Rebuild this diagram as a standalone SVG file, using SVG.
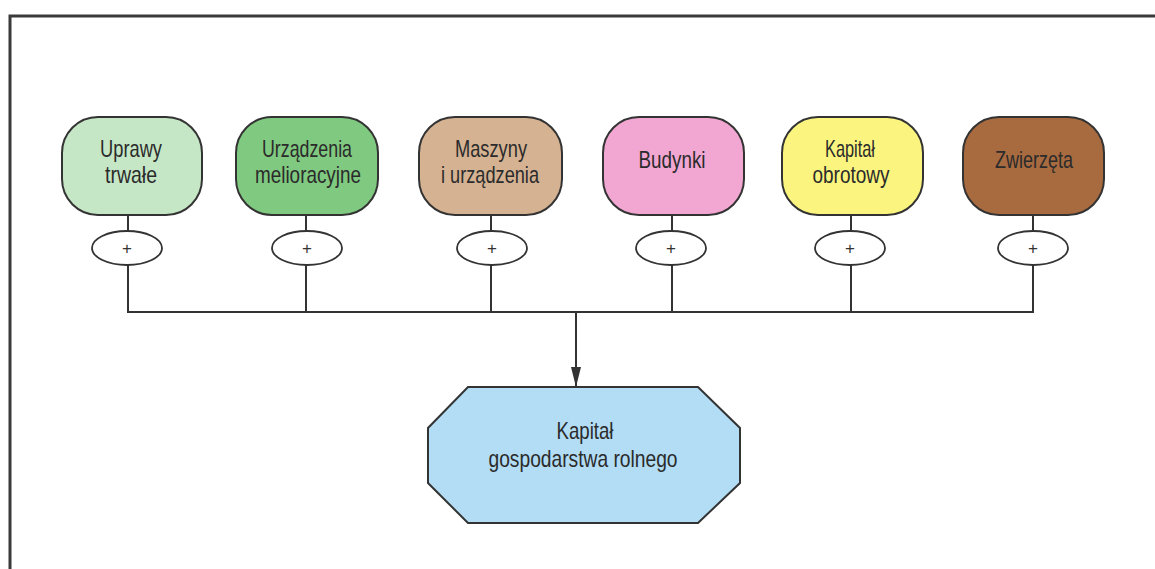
<svg xmlns="http://www.w3.org/2000/svg" width="1155" height="569" viewBox="0 0 1155 569">
<defs>
<style>
.frame{fill:none;stroke:#3a3a3a;stroke-width:3}
.box{stroke:#333;stroke-width:2}
.ell{fill:#fff;stroke:#333;stroke-width:1.8}
.ln{fill:none;stroke:#333;stroke-width:2}
.t{font-family:"Liberation Sans",Arial,sans-serif;font-size:24px;fill:#2b2b2b;text-anchor:middle}
.p{font-family:"Liberation Sans",Arial,sans-serif;font-size:17px;fill:#333;text-anchor:middle}
</style>
<marker id="arr" markerWidth="20" markerHeight="12" refX="20" refY="6" orient="auto" markerUnits="userSpaceOnUse" viewBox="0 0 20 12">
<path d="M0,1 L20,6 L0,11 Z" fill="#333"/>
</marker>
</defs>
<rect width="1155" height="569" fill="#fff"/>
<path class="frame" d="M10,569 L10,16 L1155,16"/>
<g id="connectors">
<path class="ln" d="M128,215 V231 M128,265 V312 M306,215 V231 M306,265 V312 M491,215 V231 M491,265 V312 M672,215 V231 M672,265 V312 M851,215 V231 M851,265 V312 M1033,215 V231 M1033,265 V312 M127,312 H1034"/>
<path class="ln" d="M576,312 V387" marker-end="url(#arr)"/>
</g>
<g id="n1">
<rect class="box" x="62" y="117" width="140" height="98" rx="36" fill="#c6e7c6"/>
<text class="t" x="131" y="157" textLength="62" lengthAdjust="spacingAndGlyphs">Uprawy</text>
<text class="t" x="131" y="183" textLength="52" lengthAdjust="spacingAndGlyphs">trwałe</text>
</g>
<g id="n2">
<rect class="box" x="236" y="117" width="142" height="98" rx="36" fill="#80c980"/>
<text class="t" x="307" y="157" textLength="90" lengthAdjust="spacingAndGlyphs">Urządzenia</text>
<text class="t" x="308" y="183" textLength="106" lengthAdjust="spacingAndGlyphs">melioracyjne</text>
</g>
<g id="n3">
<rect class="box" x="419" y="117" width="143" height="98" rx="36" fill="#d5b292"/>
<text class="t" x="491" y="157" textLength="72" lengthAdjust="spacingAndGlyphs">Maszyny</text>
<text class="t" x="490" y="183" textLength="98" lengthAdjust="spacingAndGlyphs">i urządzenia</text>
</g>
<g id="n4">
<rect class="box" x="603" y="117" width="141" height="98" rx="36" fill="#f2a7d3"/>
<text class="t" x="672" y="168" textLength="67" lengthAdjust="spacingAndGlyphs">Budynki</text>
</g>
<g id="n5">
<rect class="box" x="782" y="117" width="141" height="98" rx="36" fill="#fbf57f"/>
<text class="t" x="850" y="157" textLength="50" lengthAdjust="spacingAndGlyphs">Kapitał</text>
<text class="t" x="851" y="183" textLength="77" lengthAdjust="spacingAndGlyphs">obrotowy</text>
</g>
<g id="n6">
<rect class="box" x="963" y="117" width="141" height="98" rx="36" fill="#a86a3f"/>
<text class="t" x="1034" y="168" textLength="78" lengthAdjust="spacingAndGlyphs">Zwierzęta</text>
</g>
<g id="plus1"><ellipse class="ell" cx="127" cy="248" rx="35" ry="17"/><text class="p" x="127" y="254">+</text></g>
<g id="plus2"><ellipse class="ell" cx="307" cy="248" rx="35" ry="17"/><text class="p" x="307" y="254">+</text></g>
<g id="plus3"><ellipse class="ell" cx="492" cy="248" rx="35" ry="17"/><text class="p" x="492" y="254">+</text></g>
<g id="plus4"><ellipse class="ell" cx="671" cy="248" rx="35" ry="17"/><text class="p" x="671" y="254">+</text></g>
<g id="plus5"><ellipse class="ell" cx="850" cy="248" rx="35" ry="17"/><text class="p" x="850" y="254">+</text></g>
<g id="plus6"><ellipse class="ell" cx="1033" cy="248" rx="35" ry="17"/><text class="p" x="1033" y="254">+</text></g>
<g id="result">
<polygon class="box" points="468,387 698,387 740,428 740,483 698,523 468,523 428,483 428,428" fill="#b2ddf5"/>
<text class="t" x="585" y="439" textLength="57" lengthAdjust="spacingAndGlyphs">Kapitał</text>
<text class="t" x="583" y="467" textLength="189" lengthAdjust="spacingAndGlyphs">gospodarstwa rolnego</text>
</g>
</svg>
